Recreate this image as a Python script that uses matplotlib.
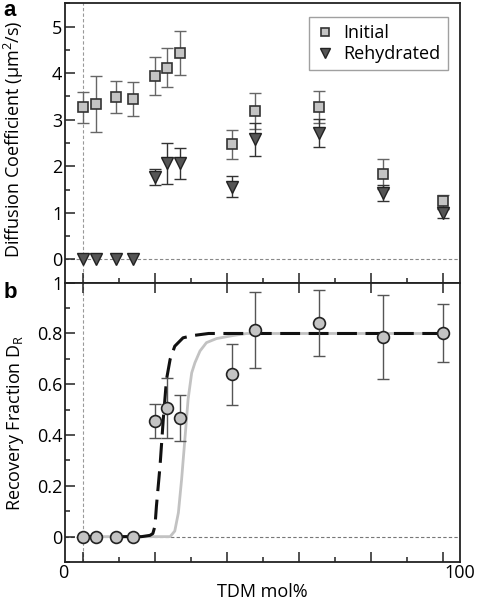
import numpy as np
import matplotlib.pyplot as plt
from matplotlib.ticker import MultipleLocator

plt.rcParams['font.family'] = ['Open Sans', 'DejaVu Sans']
plt.rcParams['mathtext.default'] = 'regular'

# TDM mol% positions of the measurements
tdm = [0, 3.6, 9.3, 14.1, 20.0, 23.3, 27.1, 41.6, 47.9, 65.6, 83.5, 100]

# panel a: diffusion coefficients (um^2/s)
d_initial = [3.27, 3.34, 3.49, 3.44, 3.94, 4.12, 4.44, 2.47, 3.19, 3.27, 1.84, 1.25]
d_initial_err = [0.33, 0.60, 0.35, 0.37, 0.40, 0.41, 0.47, 0.31, 0.39, 0.35, 0.32, 0.13]
d_rehyd = [0, 0, 0, 0, 1.77, 2.06, 2.06, 1.56, 2.58, 2.72, 1.43, 0.99]
d_rehyd_err = [0, 0, 0, 0, 0.18, 0.43, 0.34, 0.23, 0.36, 0.30, 0.17, 0.10]

# panel b: recovery fraction
recovery = [0, 0, 0, 0, 0.457, 0.507, 0.468, 0.639, 0.814, 0.840, 0.786, 0.803]
recovery_err = [0, 0, 0, 0, 0.067, 0.117, 0.090, 0.120, 0.150, 0.130, 0.165, 0.115]

# model curves
dash_x = [0, 16.4, 18.7, 19.5, 20.1, 20.5, 21.5, 22.4, 23.3, 24.3, 25.6, 27.9, 30.7, 35, 100]
dash_y = [0, 0, 0.005, 0.012, 0.042, 0.12, 0.278, 0.462, 0.619, 0.698, 0.75, 0.783, 0.792, 0.80, 0.80]
gray_x = [0, 24.3, 25.6, 26.6, 27.5, 28.4, 29.3, 30.3, 31.2, 32.6, 34.4, 37.2, 41.8, 45.6, 100]
gray_y = [0, 0, 0.022, 0.094, 0.226, 0.383, 0.541, 0.645, 0.685, 0.731, 0.764, 0.780, 0.792, 0.80, 0.80]

tdm_a = np.array(tdm)
ini_err = np.array(d_initial_err)
reh_err = np.array(d_rehyd_err)
rec_err = np.array(recovery_err)

fig = plt.figure(figsize=(4.78, 6.02), dpi=100)
ax1 = fig.add_axes([0.136, 0.5304, 0.826, 0.4641])
ax2 = fig.add_axes([0.136, 0.0664, 0.826, 0.4640])

for ax in (ax1, ax2):
    ax.set_xlim(-4.9, 104.8)
    ax.xaxis.set_major_locator(MultipleLocator(20))
    ax.xaxis.set_minor_locator(MultipleLocator(10))
    ax.axvline(0, color='#999999', lw=0.8, ls=(0, (3, 2)), zorder=1)
    for s in ax.spines.values():
        s.set_linewidth(1.3)
        s.set_color('#222222')
    ax.tick_params(which='both', direction='in', width=1.1, color='#222222',
                   labelsize=13, pad=2, right=False)
    ax.tick_params(which='major', length=7)
    ax.tick_params(which='minor', length=3.5)

# ---- panel a ----
ax1.set_ylim(-0.5, 5.5)
ax1.set_yticks([0, 1, 2, 3, 4, 5])
ax1.yaxis.set_minor_locator(MultipleLocator(0.5))
ax1.tick_params(top=False, labelbottom=False)
ax1.axhline(0, color='#888888', lw=0.8, ls=(0, (3, 2)), zorder=1)

ax1.errorbar(tdm_a, d_initial, yerr=ini_err, fmt='none', ecolor='#666666',
             elinewidth=1.0, capsize=4.5, capthick=1.0, zorder=2)
m = reh_err > 0
ax1.errorbar(tdm_a[m], np.array(d_rehyd)[m], yerr=reh_err[m], fmt='none',
             ecolor='#333333', elinewidth=1.0, capsize=4.5, capthick=1.0, zorder=2)
ax1.plot(tdm, d_initial, 's', ms=7, mfc='#c4c4c4', mec='#333333', mew=1.2,
         ls='none', label='Initial', zorder=4)
ax1.plot(tdm, d_rehyd, 'v', ms=8, mfc='#555555', mec='#222222', mew=1.0,
         ls='none', label='Rehydrated', zorder=3)
ax1.set_ylabel('Diffusion Coefficient (\u03bcm$^{2}$/s)', fontsize=13)
ax1.yaxis.set_label_coords(-0.098, 0.514)
leg = ax1.legend(loc='upper right', bbox_to_anchor=(0.970, 0.951), borderaxespad=0,
                 fontsize=13, frameon=True, fancybox=False, edgecolor='#888888',
                 handlelength=0.9, handletextpad=0.6, borderpad=0.4,
                 labelspacing=0.15, markerscale=0.85)
leg.get_frame().set_linewidth(1.0)

# ---- panel b ----
ax2.set_ylim(-0.1, 1.0)
ax2.set_yticks([0, 0.2, 0.4, 0.6, 0.8, 1.0], ['0', '0.2', '0.4', '0.6', '0.8', '1'])
ax2.yaxis.set_minor_locator(MultipleLocator(0.1))
ax2.tick_params(top=True, labelbottom=False)
ax2.axhline(0, color='#777777', lw=0.8, ls=(0, (3, 2)), zorder=1)

ax2.plot(gray_x, gray_y, color='#c2c2c2', lw=2.0, zorder=2)
ax2.plot(dash_x, dash_y, color='#111111', lw=2.2, ls=(0, (6.5, 2.8)), zorder=3)
m = rec_err > 0
ax2.errorbar(tdm_a[m], np.array(recovery)[m], yerr=rec_err[m], fmt='none',
             ecolor='#555555', elinewidth=1.0, capsize=4.5, capthick=1.0, zorder=4)
ax2.plot(tdm, recovery, 'o', ms=8.5, mfc='#c4c4c4', mec='#222222', mew=1.2,
         ls='none', zorder=5)
ax2.set_ylabel('Recovery Fraction D$_{R}$', fontsize=13)
ax2.yaxis.set_label_coords(-0.098, 0.5)

ax2.text(-0.005, -0.04, '0', transform=ax2.transAxes, ha='center', va='center', fontsize=13)
ax2.text(1.0, -0.04, '100', transform=ax2.transAxes, ha='center', va='center', fontsize=13)
ax2.text(0.499, -0.107, 'TDM mol%', transform=ax2.transAxes, ha='center', va='center', fontsize=13)

fig.text(0.008, 0.982, 'a', fontsize=16, fontweight='bold', family='Liberation Sans', va='center')
fig.text(0.008, 0.514, 'b', fontsize=16, fontweight='bold', family='Liberation Sans', va='center')

fig.savefig('out.png', dpi=100)
